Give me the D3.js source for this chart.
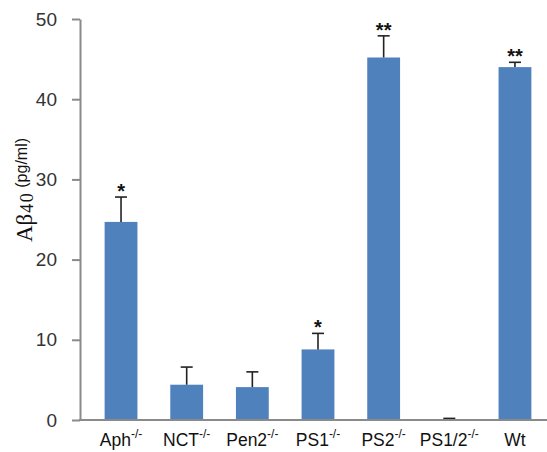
<!DOCTYPE html>
<html><head><meta charset="utf-8">
<script src="https://cdn.jsdelivr.net/npm/d3@7"></script>
<style>body{margin:0;background:#fff}svg{display:block}</style>
</head><body>
<svg id="c" width="547" height="452"></svg>
<script>
const categories = ["Aph", "NCT", "Pen2", "PS1", "PS2", "PS1/2", "Wt"];
const superscripts = ["-/-", "-/-", "-/-", "-/-", "-/-", "-/-", ""];
const values = [24.7, 4.4, 4.1, 8.8, 45.2, 0, 44.0];
const errors = [3.1, 2.2, 1.9, 2.0, 2.7, 0.2, 0.6];
const stars = ["*", "", "", "*", "**", "", "**"];
const yTicks = [0, 10, 20, 30, 40, 50];

const svg = d3.select("#c");
const x = d3.scaleBand().domain(categories).range([80, 556]).paddingInner(0.5).paddingOuter(0.375);
const y = d3.scaleLinear().domain([0, 50]).range([420, 19]);
const gray = "#8a8a8a";
const sans = "Liberation Sans, Arial, sans-serif";
const serif = "Liberation Serif, Times New Roman, serif";

// y axis
const ya = svg.append("g").attr("transform", "translate(80,0)")
  .call(d3.axisLeft(y).tickValues(yTicks).tickSize(8).tickSizeOuter(0).tickPadding(15).tickFormat(d3.format("d")));
ya.select(".domain").attr("stroke", gray).attr("stroke-width", 2);
ya.selectAll(".tick line").attr("stroke", gray).attr("stroke-width", 2);
ya.selectAll(".tick text").attr("font-family", sans).attr("font-size", 19).attr("fill", "#333");

// bars
svg.append("g").selectAll("rect").data(categories).join("rect")
  .attr("x", d => x(d)).attr("width", x.bandwidth())
  .attr("y", (d, i) => y(values[i])).attr("height", (d, i) => y(0) - y(values[i]))
  .attr("fill", "#4f81bd");

// error bars
const eg = svg.append("g").attr("stroke", "#222").attr("stroke-width", 1.6);
categories.forEach((c, i) => {
  const cx = x(c) + x.bandwidth() / 2;
  eg.append("line").attr("x1", cx).attr("x2", cx).attr("y1", y(values[i])).attr("y2", y(values[i] + errors[i]));
  eg.append("line").attr("x1", cx - 6).attr("x2", cx + 6).attr("y1", y(values[i] + errors[i])).attr("y2", y(values[i] + errors[i]));
});

// stars
svg.append("g").selectAll("text").data(categories).join("text")
  .attr("x", d => x(d) + x.bandwidth() / 2)
  .attr("y", (d, i) => y(values[i] + errors[i]) + 1)
  .attr("text-anchor", "middle").attr("font-family", sans)
  .attr("font-size", 20).attr("font-weight", "bold").attr("fill", "#111")
  .text((d, i) => stars[i]);

// x axis line
svg.append("line").attr("x1", 79).attr("x2", 547).attr("y1", 420).attr("y2", 420).attr("stroke", gray).attr("stroke-width", 2);

// x labels
const xl = svg.append("g").selectAll("text").data(categories).join("text")
  .attr("x", d => x(d) + x.bandwidth() / 2).attr("y", 446)
  .attr("text-anchor", "middle").attr("font-family", sans)
  .attr("font-size", 17.5).attr("fill", "#111");
xl.append("tspan").text(d => d);
xl.append("tspan").attr("dy", -8).attr("font-size", 12).text((d, i) => superscripts[i]);

// y label
const yl = svg.append("text").attr("transform", "translate(32,190) rotate(-90)")
  .attr("text-anchor", "middle").attr("fill", "#111");
yl.append("tspan").attr("font-family", serif).attr("font-size", 23).text("Aβ");
yl.append("tspan").attr("font-family", serif).attr("font-size", 18).attr("dy", 1).attr("dx", 1).attr("letter-spacing", 1.5).text("40");
yl.append("tspan").attr("font-family", sans).attr("font-size", 16).attr("dy", -6).attr("dx", 4).text("(pg/ml)");
</script>
</body></html>
